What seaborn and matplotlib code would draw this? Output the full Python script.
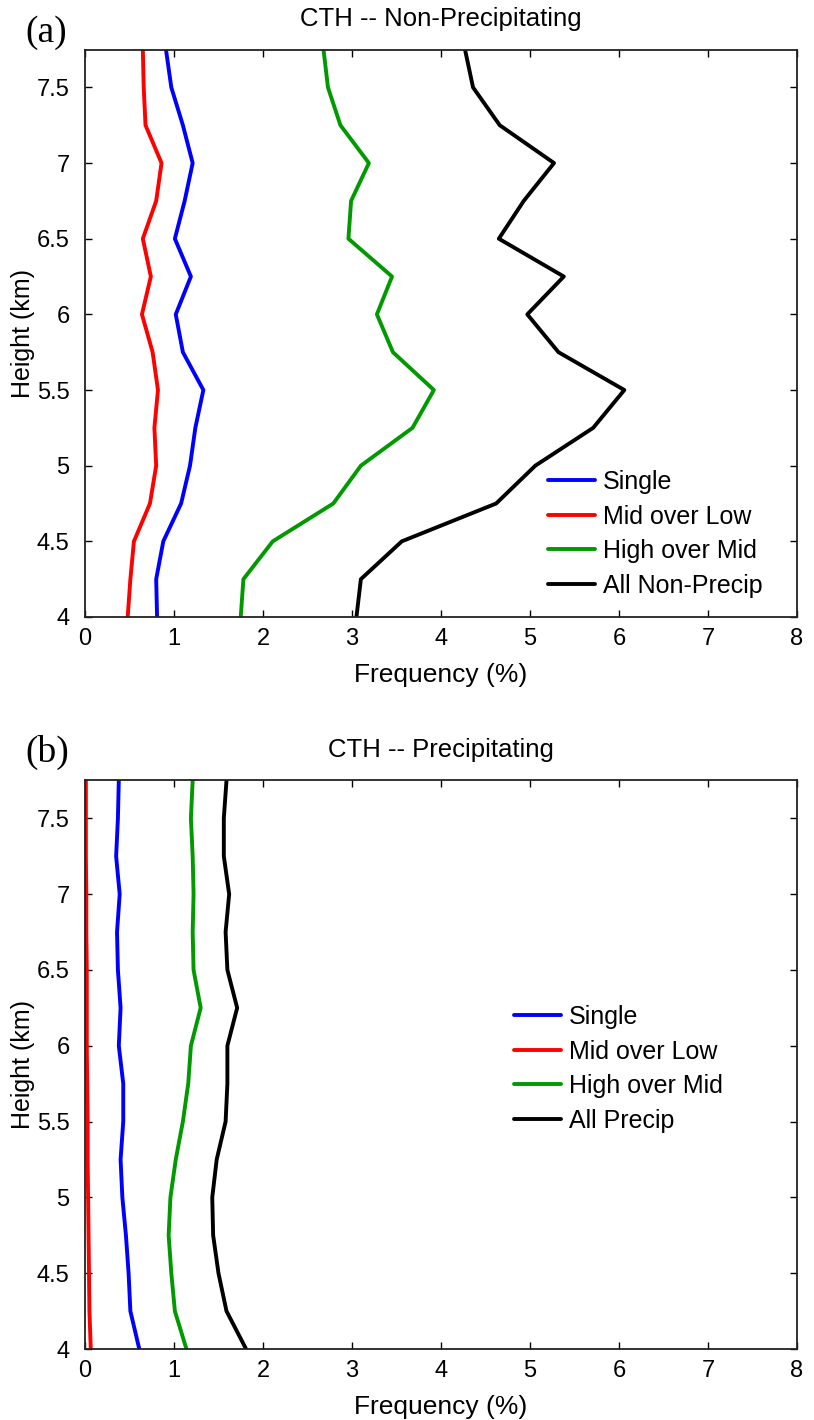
import numpy as np
import pandas as pd
import matplotlib
matplotlib.use("Agg")
import matplotlib.pyplot as plt
import seaborn as sns

sns.set_style("ticks")
plt.rcParams["font.family"] = ["Liberation Sans", "DejaVu Sans"]
plt.rcParams["text.color"] = "black"
plt.rcParams["axes.labelcolor"] = "black"
plt.rcParams["xtick.color"] = "black"
plt.rcParams["ytick.color"] = "black"

# Cloud-top heights (km), bottom to top
heights = [4.0, 4.25, 4.5, 4.75, 5.0, 5.25, 5.5, 5.75,
           6.0, 6.25, 6.5, 6.75, 7.0, 7.25, 7.5, 7.75]

# Panel (a): non-precipitating frequencies (%)
np_single = [0.81, 0.80, 0.88, 1.08, 1.18, 1.24, 1.33, 1.10,
             1.02, 1.19, 1.01, 1.12, 1.21, 1.10, 0.97, 0.91]
np_mid_low = [0.48, 0.51, 0.55, 0.73, 0.80, 0.78, 0.82, 0.76,
              0.64, 0.74, 0.65, 0.80, 0.86, 0.68, 0.66, 0.65]
np_high_mid = [1.75, 1.78, 2.11, 2.79, 3.10, 3.68, 3.92, 3.46,
               3.28, 3.45, 2.96, 2.99, 3.19, 2.87, 2.73, 2.68]
np_all = [3.05, 3.10, 3.56, 4.62, 5.06, 5.71, 6.06, 5.32,
          4.97, 5.38, 4.65, 4.93, 5.27, 4.66, 4.36, 4.27]

# Panel (b): precipitating frequencies (%)
p_single = [0.61, 0.51, 0.49, 0.46, 0.42, 0.40, 0.43, 0.43,
            0.38, 0.40, 0.37, 0.36, 0.39, 0.35, 0.37, 0.38]
p_mid_low = [0.065, 0.05, 0.045, 0.04, 0.035, 0.03, 0.03, 0.025,
             0.02, 0.02, 0.02, 0.015, 0.015, 0.01, 0.01, 0.01]
p_high_mid = [1.14, 1.01, 0.97, 0.94, 0.96, 1.02, 1.10, 1.16,
              1.19, 1.30, 1.22, 1.21, 1.22, 1.21, 1.19, 1.21]
p_all = [1.81, 1.59, 1.50, 1.44, 1.43, 1.48, 1.58, 1.60,
         1.60, 1.71, 1.60, 1.58, 1.62, 1.56, 1.56, 1.59]

xticks = [0, 1, 2, 3, 4, 5, 6, 7, 8]
yticks = [4, 4.5, 5, 5.5, 6, 6.5, 7, 7.5]
ytick_labels = ["4", "4.5", "5", "5.5", "6", "6.5", "7", "7.5"]

colors = ["#0000ff", "#ff0000", "#009900", "#000000"]


def long_frame(series, names):
    rows = []
    for name, vals in zip(names, series):
        for h, v in zip(heights, vals):
            rows.append({"freq": v, "height": h, "type": name})
    return pd.DataFrame(rows)


fig = plt.figure(figsize=(8.14, 14.2), dpi=100)
ax_a = fig.add_axes([0.1044, 0.5655, 0.8747, 0.3996])
ax_b = fig.add_axes([0.1044, 0.0500, 0.8747, 0.4004])

panels = [
    (ax_a, [np_single, np_mid_low, np_high_mid, np_all],
     ["Single", "Mid over Low", "High over Mid", "All Non-Precip"],
     "CTH -- Non-Precipitating", "(a)", (0.650, 0.259), 15),
    (ax_b, [p_single, p_mid_low, p_high_mid, p_all],
     ["Single", "Mid over Low", "High over Mid", "All Precip"],
     "CTH -- Precipitating", "(b)", (0.6025, 0.605), 735),
]

for ax, series, names, title, tag, leg_pos, tag_top in panels:
    df = long_frame(series, names)
    sns.lineplot(data=df, x="freq", y="height", hue="type",
                 palette=dict(zip(names, colors)), sort=False,
                 estimator=None, orient="y", linewidth=2.8, ax=ax,
                 legend=False)
    ax.set_xlim(0, 8)
    ax.set_ylim(4, 7.75)
    ax.set_xticks(xticks)
    ax.set_yticks(yticks)
    ax.set_yticklabels(ytick_labels)
    ax.tick_params(direction="in", length=5, width=1.0, top=True,
                   right=True, labelsize=17)
    ax.tick_params(axis="x", pad=8)
    ax.tick_params(axis="y", pad=11)
    for sp in ax.spines.values():
        sp.set_visible(True)
        sp.set_linewidth(1.3)
        sp.set_color("#222222")
    ax.set_xlabel("Frequency (%)", fontsize=19, labelpad=9)
    ax.set_ylabel("Height (km)", fontsize=18, labelpad=1)
    ax.set_title(title, fontsize=18.5, pad=17)
    handles = ax.get_lines()[:4]
    ax.legend(handles, names, loc="upper left", bbox_to_anchor=leg_pos,
              frameon=False, fontsize=18, handlelength=1.9,
              handletextpad=0.3, labelspacing=0.42, borderpad=0,
              borderaxespad=0)
    fig.text(25 / 814, 1 - tag_top / 1420, tag, fontsize=27,
             family="Liberation Serif", ha="left", va="top")

fig.savefig("out.png", dpi=100)
